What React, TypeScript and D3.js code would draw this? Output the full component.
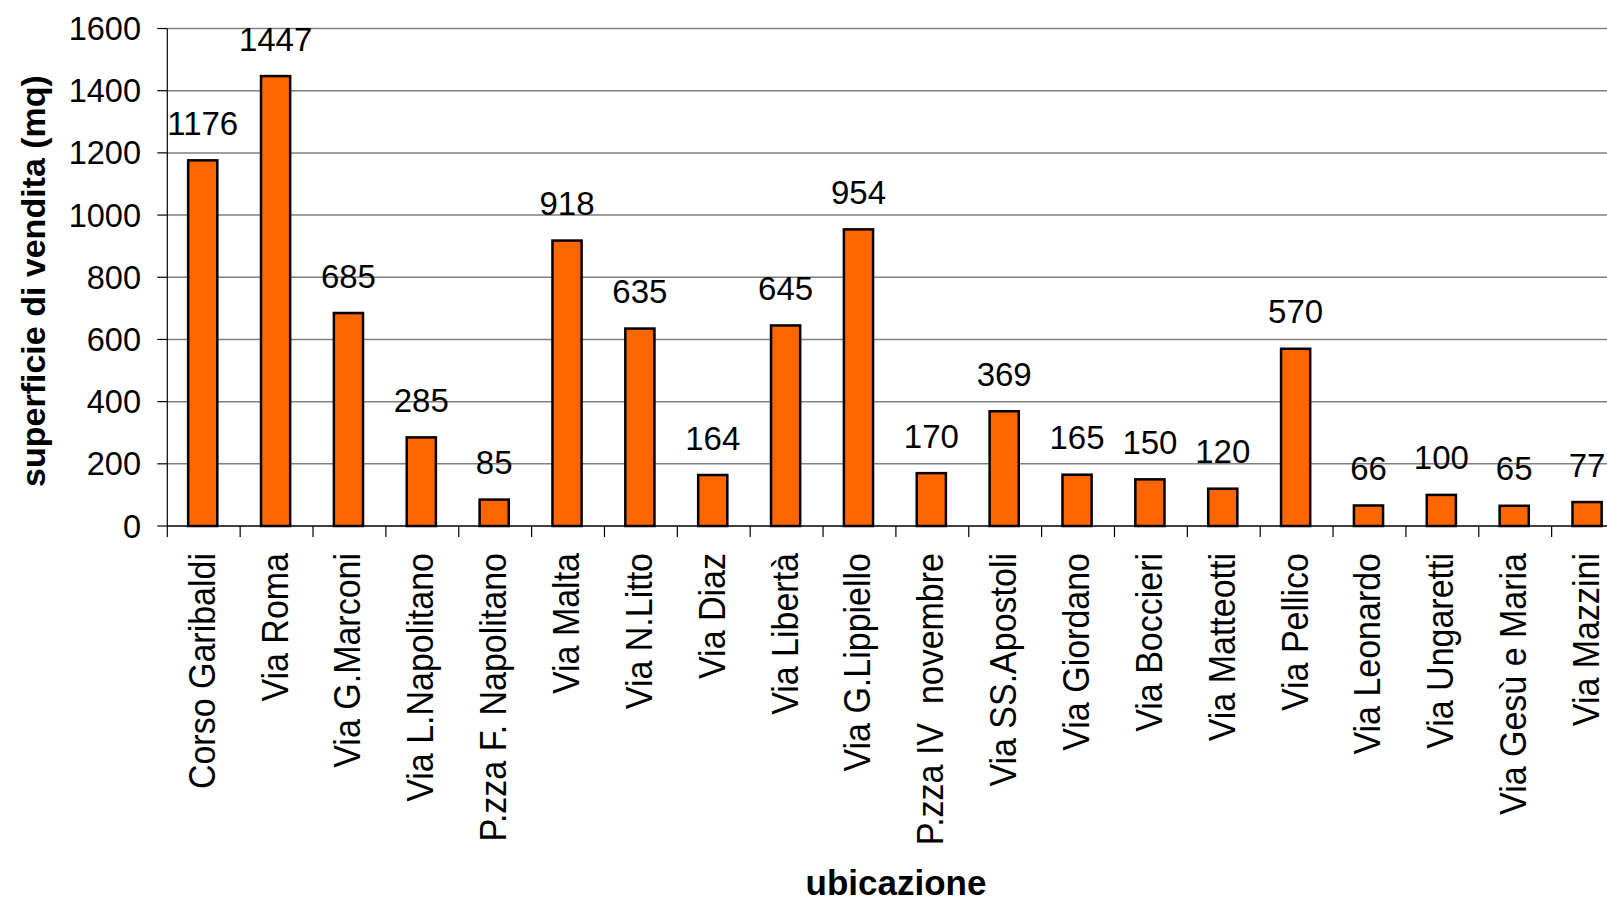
import React from "react";
import * as d3 from "d3";

const categories = [
  "Corso Garibaldi", "Via Roma", "Via G.Marconi", "Via L.Napolitano", "P.zza F. Napolitano",
  "Via Malta", "Via N.Litto", "Via Diaz", "Via Libertà", "Via G.Lippiello",
  "P.zza IV  novembre", "Via SS.Apostoli", "Via Giordano", "Via Boccieri", "Via Matteotti",
  "Via Pellico", "Via Leonardo", "Via Ungaretti", "Via Gesù e Maria", "Via Mazzini",
];
const values = [1176, 1447, 685, 285, 85, 918, 635, 164, 645, 954, 170, 369, 165, 150, 120, 570, 66, 100, 65, 77];
const yTicks = [0, 200, 400, 600, 800, 1000, 1200, 1400, 1600];
const yTitle = "superficie di vendita (mq)";
const xTitle = "ubicazione";

const W = 1607;
const H = 901;
const FONT = "'Liberation Sans', Arial, sans-serif";

export default function App() {
  const x = d3.scaleBand<string>().domain(categories).range([167.3, 167.3 + 72.86 * 20]).paddingInner(0).paddingOuter(0);
  const y = d3.scaleLinear().domain([0, 1600]).range([526, 28.5]);
  const bw = x.bandwidth();
  const barW = bw * 0.4;
  const x0 = x.range()[0];
  const yBottom = y(0);

  return (
    <svg width={W} height={H} style={{ position: "absolute", left: 0, top: 0, background: "#fff" }}>
      {/* gridlines */}
      {yTicks.filter((t) => t > 0).map((t) => (
        <line key={"g" + t} x1={x0} x2={W} y1={y(t)} y2={y(t)} stroke="#808080" strokeWidth={1.5} />
      ))}
      {/* bars */}
      {categories.map((c, i) => {
        const cx = (x(c) as number) + bw / 2 - 1;
        return (
          <rect key={"b" + c} x={cx - barW / 2} y={y(values[i])} width={barW} height={yBottom - y(values[i])}
            fill="#FF6600" stroke="#000" strokeWidth={2.5} />
        );
      })}
      {/* axes */}
      <line x1={x0} x2={x0} y1={y(1600)} y2={yBottom} stroke="#000" strokeWidth={1.2} />
      <line x1={x0} x2={W} y1={yBottom} y2={yBottom} stroke="#000" strokeWidth={1.5} />
      {yTicks.map((t) => (
        <g key={"yt" + t}>
          <line x1={x0 - 10} x2={x0} y1={y(t)} y2={y(t)} stroke="#000" strokeWidth={1.2} />
          <text x={141} y={y(t) + 11.5} textAnchor="end" fontFamily={FONT} fontSize={32.5} fill="#000">{t}</text>
        </g>
      ))}
      {d3.range(categories.length + 1).map((i) => (
        <line key={"xt" + i} x1={x0 + bw * i} x2={x0 + bw * i} y1={yBottom} y2={yBottom + 11} stroke="#000" strokeWidth={1.2} />
      ))}
      {/* data labels */}
      {categories.map((c, i) => (
        <text key={"l" + c} x={(x(c) as number) + bw / 2 - 1} y={y(values[i]) - 25.5} textAnchor="middle"
          fontFamily={FONT} fontSize={33} fill="#000">{values[i]}</text>
      ))}
      {/* category labels */}
      {categories.map((c) => (
        <text key={"c" + c} transform={`translate(${(x(c) as number) + bw / 2 + 11},553) scale(1.06,1) rotate(-90)`}
          textAnchor="end" fontFamily={FONT} fontSize={34} fill="#000" style={{ whiteSpace: "pre" }}>{c}</text>
      ))}
      {/* titles */}
      <text transform={`translate(45,281) rotate(-90)`} textAnchor="middle" fontFamily={FONT} fontWeight="bold" fontSize={34} fill="#000">{yTitle}</text>
      <text x={896} y={895} textAnchor="middle" fontFamily={FONT} fontWeight="bold" fontSize={35} fill="#000">{xTitle}</text>
    </svg>
  );
}
